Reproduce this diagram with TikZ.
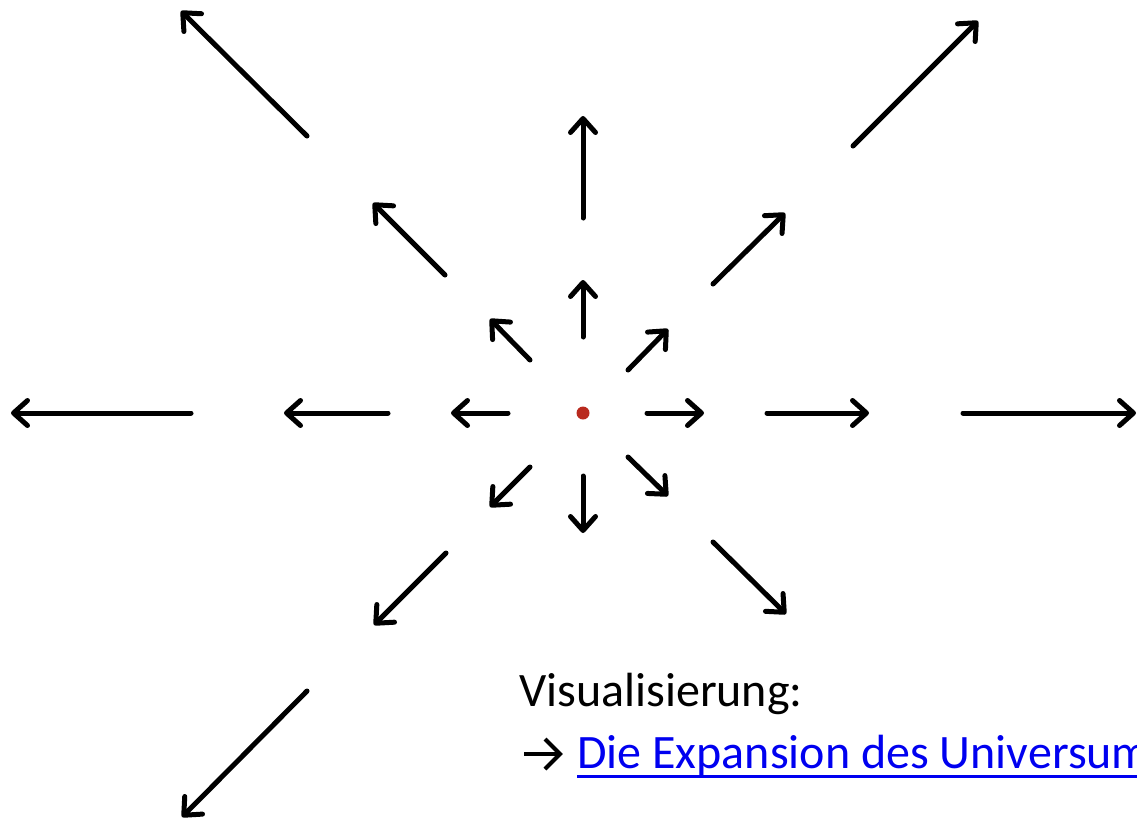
\documentclass[tikz,border=0pt]{standalone}
\usepackage{fontspec}
\setmainfont{Carlito}
\usetikzlibrary{arrows.meta}
\definecolor{dotred}{RGB}{185,42,30}
\definecolor{linkblue}{RGB}{0,0,240}
\begin{document}
\begin{tikzpicture}[x=1pt,y=-1pt,
  ray/.style={line width=5pt,line cap=round,
    -{Straight Barb[length=14pt,width=25pt,line width=5pt,round]}},
  label/.style={anchor=base west,inner sep=0pt,font=\fontsize{48}{58}\selectfont}]
\useasboundingbox (0,0) rectangle (1137,820);
\clip (0,0) rectangle (1137,820);
% centre of the expansion
\fill[dotred] (583,413) circle (6.5);
% horizontal rays
\draw[ray] (508,413) -- (451,413);
\draw[ray] (388,413) -- (284,413);
\draw[ray] (191,413) -- (11,413);
\draw[ray] (647,413) -- (704,413);
\draw[ray] (767,413) -- (869,413);
\draw[ray] (963,413) -- (1136,413);
% vertical rays
\draw[ray] (583,337) -- (583,280);
\draw[ray] (583,218) -- (583,116);
\draw[ray] (583,476) -- (583,533);
% upper left
\draw[ray] (530,360) -- (490,319);
\draw[ray] (445,275) -- (373,203);
\draw[ray] (307,136) -- (181,11);
% upper right
\draw[ray] (628,370) -- (668,329);
\draw[ray] (713,284) -- (785,213);
\draw[ray] (853,146) -- (978,21);
% lower left
\draw[ray] (530,467) -- (490,507);
\draw[ray] (446,553) -- (374,625);
\draw[ray] (307,691) -- (182,817);
% lower right
\draw[ray] (628,457) -- (668,496);
\draw[ray] (713,542) -- (786,614);
% caption
\node[label] (vis) at (519,706) {Visualisierung:};
\node[label,text=linkblue] (link) at (577,768) {Die Expansion des Universum};
\draw[linkblue,line width=3pt] ([yshift=-8pt]link.base west) -- ([yshift=-8pt,xshift=40pt]link.base east);
% pointer arrow in front of the link
\draw[line width=4pt,miter limit=10] (524,754) -- (559,754);
\draw[line width=4pt,miter limit=10] (545,739) -- (560,754) -- (545,769);
\end{tikzpicture}
\end{document}
